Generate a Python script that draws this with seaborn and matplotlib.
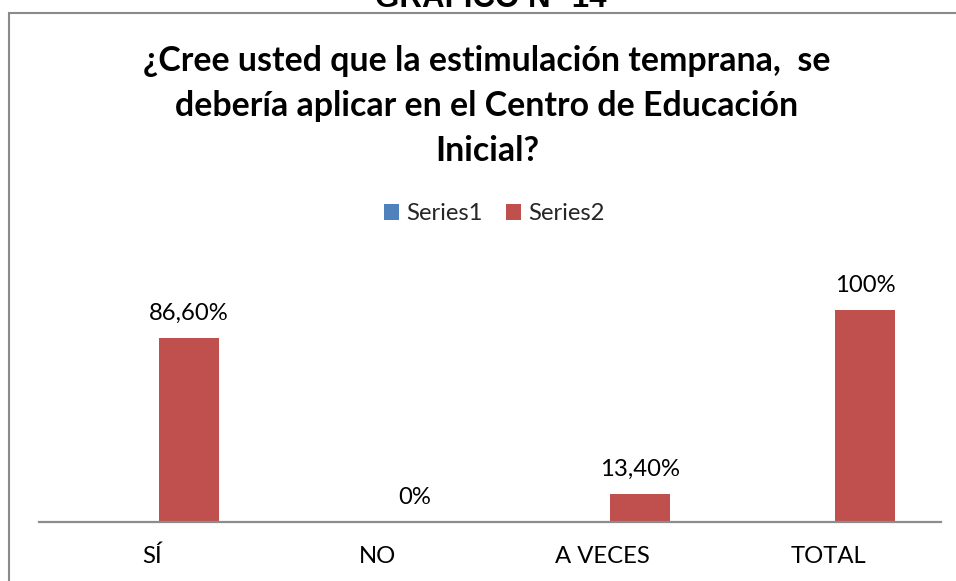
import numpy as np
import pandas as pd
import matplotlib
matplotlib.use("Agg")
import matplotlib.pyplot as plt
from matplotlib.patches import Rectangle
import seaborn as sns

# ---- data ----
categories = ["SÍ", "NO", "A VECES", "TOTAL"]
series_names = ["Series1", "Series2"]
series1 = [0, 0, 0, 0]
series2 = [86.6, 0, 13.4, 100]
series_colors = ["#4F81BD", "#C0504D"]
title_text = "¿Cree usted que la estimulación temprana,  se\ndebería aplicar en el Centro de Educación\nInicial?"
header_text = "GRAFICO N° 14"

df = pd.DataFrame({
    "cat": categories * 2,
    "series": [series_names[0]] * 4 + [series_names[1]] * 4,
    "value": series1 + series2,
})

sns.set_style("white")
plt.rcParams["font.family"] = ["Lato", "DejaVu Sans"]

W, H = 956, 581
fig = plt.figure(figsize=(W / 100, H / 100), dpi=100)

FS = 17.2

# axes placement in pixels
ax_left, ax_right, ax_bottom, ax_top = 39, 941, 522, 250
ax = fig.add_axes([ax_left / W, 1 - ax_bottom / H, (ax_right - ax_left) / W, (ax_bottom - ax_top) / H])

sns.barplot(data=df, x="cat", y="value", hue="series", palette=series_colors,
            saturation=1, width=0.532, linewidth=0, ax=ax,
            order=categories, hue_order=series_names)

ax.set_xlim(-0.532, 3.468)
ax.set_ylim(0, 128)
ax.set_xticks(np.arange(len(categories)) - 0.032)
ax.set_xticklabels(categories, fontsize=FS, color="#000000")
ax.set_yticks([])
ax.set_xlabel("")
ax.set_ylabel("")
ax.tick_params(axis="x", length=0, pad=17)
for s in ["left", "right", "top"]:
    ax.spines[s].set_visible(False)
ax.spines["bottom"].set_color("#8c8c8c")
ax.spines["bottom"].set_linewidth(1.6)
ax.patch.set_alpha(0)

def fmt(v):
    return f"{v:.0f}%" if float(v).is_integer() else f"{v:.2f}%".replace(".", ",")

ax.bar_label(ax.containers[1], labels=[fmt(v) for v in series2], padding=10,
             fontsize=FS, color="#000000")

sns.move_legend(ax, "center", bbox_to_anchor=(494.5 / W, 1 - 214 / H),
                bbox_transform=fig.transFigure, ncol=2, frameon=False, title=None,
                fontsize=FS, handlelength=0.62, handleheight=0.62,
                handletextpad=0.3, columnspacing=1.0)

# title
fig.text(487 / W, 1 - 45 / H, title_text, ha="center", va="top", fontsize=24.4,
         fontweight="bold", linespacing=1.5, color="#000000")

# header cut off at top (as in the reference)
fig.text(491 / W, 1 - 7 / H, header_text, ha="center", va="baseline",
         fontsize=22.5, fontweight="bold", family=["Liberation Sans", "DejaVu Sans"],
         color="#000000")

# chart border (extends beyond right/bottom edge)
fig.patches.append(Rectangle((9 / W, -0.1), 1.2, 1 - 13 / H + 0.1, transform=fig.transFigure,
                             fill=False, edgecolor="#8a8a8a", linewidth=1.5))

fig.savefig("out.png", dpi=100, facecolor="white")
